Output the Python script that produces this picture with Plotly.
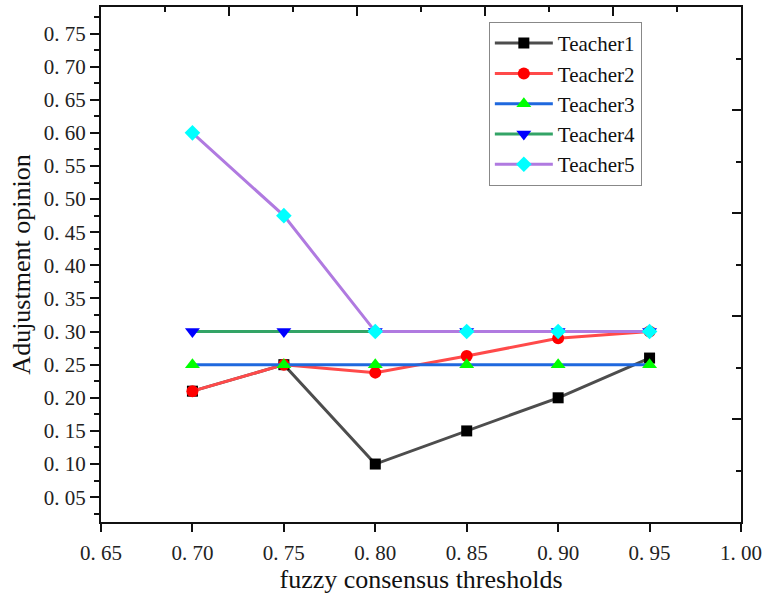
import plotly.graph_objects as go

thresholds = [0.70, 0.75, 0.80, 0.85, 0.90, 0.95]
teacher1 = [0.21, 0.25, 0.10, 0.15, 0.20, 0.26]
teacher2 = [0.21, 0.25, 0.238, 0.263, 0.29, 0.30]
teacher3 = [0.25, 0.25, 0.25, 0.25, 0.25, 0.25]
teacher4 = [0.30, 0.30, 0.30, 0.30, 0.30, 0.30]
teacher5 = [0.60, 0.475, 0.30, 0.30, 0.30, 0.30]

x_ticks = [0.65, 0.70, 0.75, 0.80, 0.85, 0.90, 0.95, 1.00]
x_ticktext = ["0. 65", "0. 70", "0. 75", "0. 80", "0. 85", "0. 90", "0. 95", "1. 00"]
y_ticks = [0.05, 0.10, 0.15, 0.20, 0.25, 0.30, 0.35, 0.40, 0.45, 0.50, 0.55, 0.60, 0.65, 0.70, 0.75]
y_ticktext = ["0. 05", "0. 10", "0. 15", "0. 20", "0. 25", "0. 30", "0. 35", "0. 40",
              "0. 45", "0. 50", "0. 55", "0. 60", "0. 65", "0. 70", "0. 75"]

series = [
    ("Teacher1", teacher1, "#4d4d4d", "square", "#000000", 11),
    ("Teacher2", teacher2, "#ff4a4a", "circle", "#ff0000", 12),
    ("Teacher3", teacher3, "#1f68de", "triangle-up", "#00ff00", 13),
    ("Teacher4", teacher4, "#33a466", "triangle-down", "#0000ff", 13),
    ("Teacher5", teacher5, "#b07ae0", "diamond", "#00ffff", 12),
]

fig = go.Figure()
# invisible trace to carry the top/right decorative axes
fig.add_trace(go.Scatter(x=[None], y=[None], xaxis="x2", yaxis="y2",
                         showlegend=False, hoverinfo="skip", mode="markers"))
for name, vals, lc, sym, mc, ms in series:
    fig.add_trace(go.Scatter(
        x=thresholds, y=vals, name=name, mode="lines+markers",
        line=dict(color=lc, width=3),
        marker=dict(symbol=sym, color=mc, size=ms, line=dict(width=0)),
    ))

axis_font = dict(family="Liberation Serif", size=21, color="#222222")
title_font = dict(family="Liberation Serif", size=26, color="#111111")

fig.update_layout(
    width=764, height=594,
    margin=dict(l=101, r=23, t=7, b=72, autoexpand=False),
    paper_bgcolor="white", plot_bgcolor="white",
    xaxis=dict(
        range=[0.65, 1.00], tickmode="array", tickvals=x_ticks, ticktext=x_ticktext,
        ticks="outside", ticklen=8, tickwidth=2, tickcolor="#111111",
        showline=True, linewidth=2, linecolor="#111111", mirror=False,
        showgrid=False, zeroline=False, tickfont=axis_font, ticklabelstandoff=3,
        automargin=False,
        title=dict(text="fuzzy consensus thresholds", font=title_font, standoff=6),
    ),
    yaxis=dict(
        range=[0.0125, 0.79], tickmode="array", tickvals=y_ticks, ticktext=y_ticktext,
        ticks="outside", ticklen=9, tickwidth=2, tickcolor="#111111",
        minor=dict(ticks="outside", ticklen=5, tickwidth=2, tickcolor="#111111",
                   tick0=0.025, dtick=0.05, showgrid=False),
        showline=True, linewidth=2, linecolor="#111111", mirror=False,
        showgrid=False, zeroline=False, tickfont=axis_font, automargin=False,
        title=dict(text="Adujustment opinion", font=title_font, standoff=6),
    ),
    xaxis2=dict(
        overlaying="x", side="top", anchor="y", range=[0, 1],
        tickmode="array", tickvals=[0.2, 0.4, 0.6, 0.8, 1.0],
        ticks="inside", ticklen=9, tickwidth=2, tickcolor="#111111",
        minor=dict(ticks="inside", ticklen=5, tickwidth=2, tickcolor="#111111",
                   tickvals=[0.1, 0.3, 0.5, 0.7, 0.9]),
        showticklabels=False, showline=True, linewidth=2, linecolor="#111111",
        showgrid=False, zeroline=False, automargin=False,
    ),
    yaxis2=dict(
        overlaying="y", side="right", anchor="x", range=[0, 1],
        tickmode="array", tickvals=[0.2, 0.4, 0.6, 0.8, 1.0],
        ticks="inside", ticklen=9, tickwidth=2, tickcolor="#111111",
        minor=dict(ticks="inside", ticklen=5, tickwidth=2, tickcolor="#111111",
                   tickvals=[0.1, 0.3, 0.5, 0.7, 0.9]),
        showticklabels=False, showline=True, linewidth=2, linecolor="#111111",
        showgrid=False, zeroline=False, automargin=False,
    ),
    legend=dict(
        x=0.606, y=0.971, xanchor="left", yanchor="top",
        bgcolor="white", bordercolor="#888888", borderwidth=1,
        font=dict(family="Liberation Serif", size=21, color="#111111"),
        itemwidth=58,
    ),
    showlegend=True,
)

fig.write_html("out.html")
